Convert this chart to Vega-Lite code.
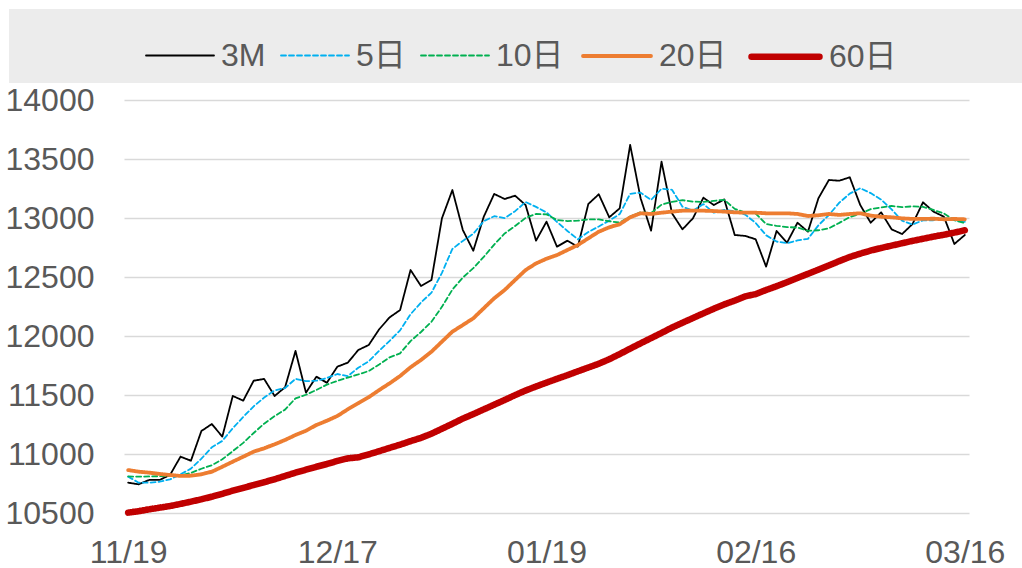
{
  "$schema": "https://vega.github.io/schema/vega-lite/v6.json",
  "width": 845,
  "height": 413,
  "padding": {"left": 5, "top": 9, "right": 0, "bottom": 0},
  "background": "white",
  "config": {
    "font": "Liberation Sans, Noto Sans CJK SC",
    "view": {"stroke": null},
    "legend": {
      "orient": "none",
      "legendX": -115,
      "legendY": -91,
      "direction": "horizontal",
      "titleOrient": "left",
      "titlePadding": 19,
      "titleFontSize": 32,
      "titleColor": "rgba(0,0,0,0)",
      "fillColor": "#ececec",
      "padding": 10,
      "symbolType": "stroke",
      "symbolSize": 4624,
      "labelFontSize": 32,
      "labelColor": "#595959",
      "labelOffset": 6,
      "labelLimit": 0,
      "columnPadding": 11
    }
  },
  "data": {"values": [
    {"d":"11/19","3M":10757,"5日":10808,"10日":10810,"20日":10864,"60日":10503},
    {"d":"11/20","3M":10743,"5日":10757,"10日":10808,"20日":10850,"60日":10515},
    {"d":"11/23","3M":10780,"5日":10757,"10日":10810,"20日":10842,"60日":10531},
    {"d":"11/24","3M":10780,"5日":10765,"10日":10812,"20日":10831,"60日":10545},
    {"d":"11/25","3M":10822,"5日":10785,"10日":10812,"20日":10822,"60日":10559},
    {"d":"11/26","3M":10977,"5日":10828,"10日":10818,"20日":10814,"60日":10577},
    {"d":"11/27","3M":10943,"5日":10876,"10日":10840,"20日":10816,"60日":10596},
    {"d":"11/30","3M":11195,"5日":10960,"10日":10875,"20日":10828,"60日":10616},
    {"d":"12/01","3M":11254,"5日":11057,"10日":10905,"20日":10850,"60日":10638},
    {"d":"12/02","3M":11147,"5日":11111,"10日":10955,"20日":10892,"60日":10663},
    {"d":"12/03","3M":11492,"5日":11218,"10日":11024,"20日":10935,"60日":10689},
    {"d":"12/04","3M":11452,"5日":11314,"10日":11094,"20日":10977,"60日":10713},
    {"d":"12/07","3M":11621,"5日":11404,"10日":11178,"20日":11020,"60日":10737},
    {"d":"12/08","3M":11636,"5日":11478,"10日":11257,"20日":11048,"60日":10761},
    {"d":"12/09","3M":11492,"5日":11538,"10日":11321,"20日":11082,"60日":10786},
    {"d":"12/10","3M":11565,"5日":11559,"10日":11376,"20日":11119,"60日":10814},
    {"d":"12/11","3M":11873,"5日":11637,"10日":11472,"20日":11161,"60日":10842},
    {"d":"12/14","3M":11520,"5日":11617,"10日":11502,"20日":11197,"60日":10867},
    {"d":"12/15","3M":11655,"5日":11621,"10日":11543,"20日":11246,"60日":10892},
    {"d":"12/16","3M":11604,"5日":11644,"10日":11588,"20日":11282,"60日":10915},
    {"d":"12/17","3M":11740,"5日":11678,"10日":11620,"20日":11322,"60日":10941},
    {"d":"12/18","3M":11774,"5日":11659,"10日":11648,"20日":11379,"60日":10963},
    {"d":"12/21","3M":11881,"5日":11731,"10日":11674,"20日":11430,"60日":10972},
    {"d":"12/22","3M":11924,"5日":11785,"10日":11703,"20日":11481,"60日":10997},
    {"d":"12/23","3M":12057,"5日":11875,"10日":11759,"20日":11542,"60日":11024},
    {"d":"12/24","3M":12158,"5日":11959,"10日":11819,"20日":11599,"60日":11052},
    {"d":"12/28","3M":12220,"5日":12048,"10日":11853,"20日":11661,"60日":11079},
    {"d":"12/29","3M":12559,"5日":12184,"10日":11957,"20日":11735,"60日":11109},
    {"d":"12/30","3M":12424,"5日":12284,"10日":12034,"20日":11797,"60日":11137},
    {"d":"12/31","3M":12475,"5日":12367,"10日":12121,"20日":11867,"60日":11172},
    {"d":"01/04","3M":12997,"5日":12535,"10日":12247,"20日":11952,"60日":11214},
    {"d":"01/05","3M":13237,"5日":12738,"10日":12393,"20日":12037,"60日":11256},
    {"d":"01/06","3M":12898,"5日":12806,"10日":12495,"20日":12093,"60日":11300},
    {"d":"01/07","3M":12723,"5日":12866,"10日":12575,"20日":12150,"60日":11338},
    {"d":"01/08","3M":13011,"5日":12973,"10日":12670,"20日":12235,"60日":11378},
    {"d":"01/11","3M":13204,"5日":13015,"10日":12775,"20日":12320,"60日":11418},
    {"d":"01/12","3M":13161,"5日":12999,"10日":12869,"20日":12390,"60日":11458},
    {"d":"01/13","3M":13189,"5日":13058,"10日":12932,"20日":12475,"60日":11499},
    {"d":"01/14","3M":13110,"5日":13135,"10日":13001,"20日":12559,"60日":11538},
    {"d":"01/15","3M":12808,"5日":13094,"10日":13034,"20日":12615,"60日":11572},
    {"d":"01/19","3M":12969,"5日":13047,"10日":13031,"20日":12655,"60日":11605},
    {"d":"01/20","3M":12757,"5日":12967,"10日":12983,"20日":12686,"60日":11637},
    {"d":"01/21","3M":12808,"5日":12890,"10日":12974,"20日":12729,"60日":11668},
    {"d":"01/22","3M":12757,"5日":12820,"10日":12977,"20日":12771,"60日":11701},
    {"d":"01/25","3M":13119,"5日":12882,"10日":12988,"20日":12828,"60日":11733},
    {"d":"01/26","3M":13201,"5日":12928,"10日":12988,"20日":12884,"60日":11765},
    {"d":"01/27","3M":13006,"5日":12978,"10日":12972,"20日":12921,"60日":11803},
    {"d":"01/28","3M":13082,"5日":13033,"10日":12962,"20日":12947,"60日":11847},
    {"d":"01/29","3M":13619,"5日":13205,"10日":13013,"20日":13006,"60日":11893},
    {"d":"02/01","3M":13167,"5日":13215,"10日":13049,"20日":13040,"60日":11938},
    {"d":"02/02","3M":12893,"5日":13153,"10日":13041,"20日":13034,"60日":11982},
    {"d":"02/03","3M":13477,"5日":13248,"10日":13113,"20日":13045,"60日":12026},
    {"d":"02/04","3M":13040,"5日":13239,"10日":13136,"20日":13054,"60日":12072},
    {"d":"02/05","3M":12904,"5日":13096,"10日":13151,"20日":13062,"60日":12112},
    {"d":"02/08","3M":12997,"5日":13062,"10日":13139,"20日":13062,"60日":12152},
    {"d":"02/09","3M":13172,"5日":13118,"10日":13136,"20日":13062,"60日":12192},
    {"d":"02/10","3M":13110,"5日":13045,"10日":13146,"20日":13059,"60日":12231},
    {"d":"02/11","3M":13158,"5日":13068,"10日":13154,"20日":13054,"60日":12268},
    {"d":"02/12","3M":12856,"5日":13059,"10日":13077,"20日":13048,"60日":12300},
    {"d":"02/15","3M":12848,"5日":13029,"10日":13046,"20日":13045,"60日":12336},
    {"d":"02/16","3M":12820,"5日":12958,"10日":13038,"20日":13045,"60日":12355},
    {"d":"02/17","3M":12588,"5日":12854,"10日":12949,"20日":13040,"60日":12390},
    {"d":"02/18","3M":12890,"5日":12800,"10日":12934,"20日":13040,"60日":12422},
    {"d":"02/19","3M":12791,"5日":12787,"10日":12923,"20日":13040,"60日":12456},
    {"d":"02/22","3M":12960,"5日":12810,"10日":12919,"20日":13034,"60日":12492},
    {"d":"02/23","3M":12884,"5日":12823,"10日":12891,"20日":13017,"60日":12527},
    {"d":"02/24","3M":13167,"5日":12938,"10日":12896,"20日":13023,"60日":12562},
    {"d":"02/25","3M":13322,"5日":13025,"10日":12913,"20日":13034,"60日":12598},
    {"d":"02/26","3M":13316,"5日":13130,"10日":12959,"20日":13026,"60日":12635},
    {"d":"03/01","3M":13345,"5日":13207,"10日":13008,"20日":13034,"60日":12670},
    {"d":"03/02","3M":13110,"5日":13252,"10日":13037,"20日":13040,"60日":12698},
    {"d":"03/03","3M":12960,"5日":13211,"10日":13075,"20日":13020,"60日":12724},
    {"d":"03/04","3M":13048,"5日":13156,"10日":13090,"20日":13011,"60日":12746},
    {"d":"03/05","3M":12904,"5日":13073,"10日":13102,"20日":13006,"60日":12766},
    {"d":"03/08","3M":12864,"5日":12977,"10日":13092,"20日":12997,"60日":12786},
    {"d":"03/09","3M":12949,"5日":12945,"10日":13099,"20日":12992,"60日":12806},
    {"d":"03/10","3M":13133,"5日":12980,"10日":13095,"20日":12992,"60日":12824},
    {"d":"03/11","3M":13054,"5日":12981,"10日":13068,"20日":12994,"60日":12842},
    {"d":"03/12","3M":13011,"5日":13002,"10日":13038,"20日":12989,"60日":12858},
    {"d":"03/15","3M":12780,"5日":12985,"10日":12981,"20日":12992,"60日":12876},
    {"d":"03/16","3M":12856,"5日":12967,"10日":12956,"20日":12989,"60日":12896}
  ]},
  "transform": [{"fold": ["3M", "5日", "10日", "20日", "60日"], "as": ["s", "v"]}],
  "mark": {"type": "line", "strokeCap": "round", "strokeJoin": "round"},
  "encoding": {
    "x": {
      "field": "d", "type": "ordinal", "sort": null,
      "scale": {"type": "point", "padding": 0.4},
      "axis": {
        "values": ["11/19", "12/17", "01/19", "02/16", "03/16"],
        "labelAngle": 0, "ticks": false, "domain": false, "grid": false,
        "labelFontSize": 32, "labelColor": "#595959", "labelPadding": 24,
        "labelOverlap": false, "title": null
      }
    },
    "y": {
      "field": "v", "type": "quantitative",
      "scale": {"domain": [10500, 14000], "nice": false, "zero": false},
      "axis": {
        "values": [10500, 11000, 11500, 12000, 12500, 13000, 13500, 14000],
        "format": "d", "ticks": false, "domain": false,
        "gridColor": "#d9d9d9", "gridWidth": 1.5,
        "labelFontSize": 32, "labelColor": "#595959", "labelPadding": 30,
        "title": null
      }
    },
    "color": {
      "field": "s", "type": "nominal",
      "scale": {"domain": ["3M", "5日", "10日", "20日", "60日"], "range": ["#000000", "#00b0f0", "#00b050", "#ed7d31", "#c00000"]},
      "legend": {
        "title": "MMMM",
        "labelExpr": "datum.label == '60日' ? datum.label + '\u2800\u2800\u2800\u2800\u2800' : datum.label",
        "encode": {"symbols": {"update": {"strokeCap": {"value": "round"}}}}
      }
    },
    "strokeDash": {
      "field": "s", "type": "nominal",
      "scale": {"domain": ["3M", "5日", "10日", "20日", "60日"], "range": [[1, 0], [5, 3], [5, 3], [1, 0], [1, 0]]},
      "legend": {
        "title": "MMMM",
        "labelExpr": "datum.label == '60日' ? datum.label + '\u2800\u2800\u2800\u2800\u2800' : datum.label"
      }
    },
    "strokeWidth": {
      "field": "s", "type": "ordinal",
      "scale": {"type": "ordinal", "domain": ["3M", "5日", "10日", "20日", "60日"], "range": [1.8, 1.8, 1.8, 3.8, 6.5]},
      "legend": {
        "title": "MMMM",
        "labelExpr": "datum.label == '60日' ? datum.label + '\u2800\u2800\u2800\u2800\u2800' : datum.label"
      }
    }
  }
}
